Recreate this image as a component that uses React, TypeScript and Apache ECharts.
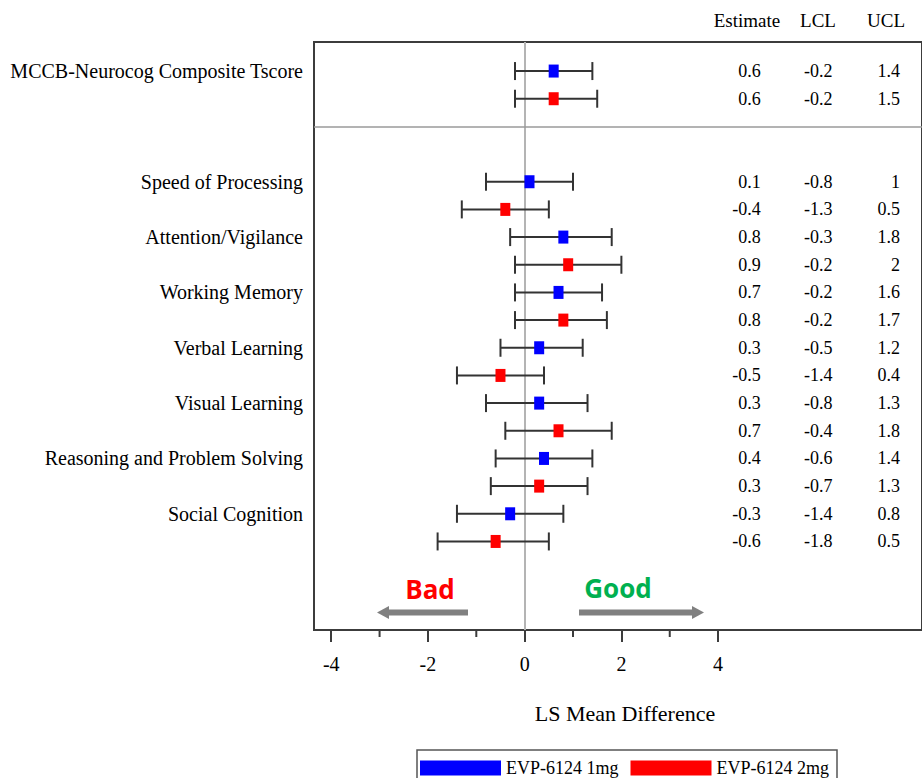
import React, { useEffect, useRef } from "react";
import * as echarts from "echarts";

const categories = [
  "MCCB-Neurocog Composite Tscore",
  "Speed of Processing",
  "Attention/Vigilance",
  "Working Memory",
  "Verbal Learning",
  "Visual Learning",
  "Reasoning and Problem Solving",
  "Social Cognition",
];
const blueRows = [1, 5, 7, 9, 11, 13, 15, 17];
const redRows = [2, 6, 8, 10, 12, 14, 16, 18];
const separatorRow = 3;

const est1 = [0.6, 0.1, 0.8, 0.7, 0.3, 0.3, 0.4, -0.3];
const lcl1 = [-0.2, -0.8, -0.3, -0.2, -0.5, -0.8, -0.6, -1.4];
const ucl1 = [1.4, 1, 1.8, 1.6, 1.2, 1.3, 1.4, 0.8];

const est2 = [0.6, -0.4, 0.9, 0.8, -0.5, 0.7, 0.3, -0.6];
const lcl2 = [-0.2, -1.3, -0.2, -0.2, -1.4, -0.4, -0.7, -1.8];
const ucl2 = [1.5, 0.5, 2, 1.7, 0.4, 1.8, 1.3, 0.5];

const xTickValues = [-4, -2, 0, 2, 4];
const xMinorTicks = [-3, -1, 1, 3];
const tableHeaders = ["Estimate", "LCL", "UCL"];
const seriesNames = ["EVP-6124 1mg", "EVP-6124 2mg"];
const seriesColors = ["#0000ff", "#ff0000"];

// layout constants (data-unit x positions of right-aligned table columns)
const tableColX = [4.883, 6.364, 7.76];
const X_MIN = -4.356;
const X_MAX = 8.216;
const Y_MIN = -0.05;
const Y_MAX = 21.2;

const SERIF = '"Liberation Serif", "Times New Roman", serif';

export default function App() {
  const ref = useRef<HTMLDivElement>(null);

  useEffect(() => {
    if (!ref.current) return;
    const chart = echarts.init(ref.current, undefined, { renderer: "svg" });

    const barData = (rows: number[], lo: number[], hi: number[]) =>
      rows.map((r, i) => [r, lo[i], hi[i]]);
    const pointData = (rows: number[], est: number[]) =>
      rows.map((r, i) => [est[i], r]);
    const tableData = (rows: number[], e: number[], l: number[], u: number[]) =>
      rows.map((r, i) => [r, e[i], l[i], u[i]]);

    const errorBarRender = (params: any, api: any) => {
      const y = api.value(0);
      const lo = api.value(1);
      const hi = api.value(2);
      const p1 = api.coord([lo, y]);
      const p2 = api.coord([hi, y]);
      const h = 9;
      const st = { stroke: "#333333", lineWidth: 2 };
      return {
        type: "group",
        children: [
          { type: "line", shape: { x1: p1[0], y1: p1[1], x2: p2[0], y2: p2[1] }, style: st },
          { type: "line", shape: { x1: p1[0], y1: p1[1] - h, x2: p1[0], y2: p1[1] + h }, style: st },
          { type: "line", shape: { x1: p2[0], y1: p2[1] - h, x2: p2[0], y2: p2[1] + h }, style: st },
        ],
      };
    };

    const tableRender = (params: any, api: any) => {
      const y = api.value(0);
      const children = [1, 2, 3].map((d, k) => {
        const pt = api.coord([tableColX[k], y]);
        return {
          type: "text",
          x: pt[0],
          y: pt[1],
          style: {
            text: String(api.value(d)),
            fill: "#000",
            fontSize: 18,
            fontFamily: SERIF,
            align: "right",
            verticalAlign: "middle",
          },
        };
      });
      return { type: "group", children };
    };

    const minorTickRender = (params: any, api: any) => {
      const v = api.value(0);
      const pt = api.coord([v, Y_MAX]);
      return {
        type: "line",
        shape: { x1: pt[0], y1: pt[1], x2: pt[0], y2: pt[1] + 7 },
        style: { stroke: "#3c3c3c", lineWidth: 2 },
      };
    };

    const option: any = {
      animation: false,
      grid: {
        left: 314,
        right: -3,
        top: 42,
        bottom: 148,
        show: true,
        borderColor: "#3c3c3c",
        borderWidth: 2,
        backgroundColor: "transparent",
      },
      xAxis: {
        type: "value",
        min: X_MIN,
        max: X_MAX,
        position: "bottom",
        axisLine: { show: true, onZero: false, lineStyle: { color: "#3c3c3c", width: 2 } },
        axisTick: {
          show: true,
          customValues: xTickValues,
          length: 12,
          lineStyle: { color: "#3c3c3c", width: 2 },
        },
        axisLabel: {
          customValues: xTickValues,
          margin: 24,
          fontFamily: SERIF,
          fontSize: 20,
          color: "#000",
          formatter: (v: number) => String(v),
        },
        splitLine: { show: false },
      },
      yAxis: {
        type: "value",
        inverse: true,
        min: Y_MIN,
        max: Y_MAX,
        axisLine: { show: true, onZero: false, lineStyle: { color: "#3c3c3c", width: 2 } },
        axisTick: { show: false },
        axisLabel: {
          customValues: blueRows,
          margin: 11,
          fontFamily: SERIF,
          fontSize: 20,
          color: "#000",
          formatter: (v: number) => {
            const i = blueRows.indexOf(v);
            return i >= 0 ? categories[i] : "";
          },
        },
        splitLine: { show: false },
      },
      legend: {
        left: 417,
        top: 750,
        orient: "horizontal",
        data: seriesNames,
        icon: "rect",
        itemWidth: 81,
        itemHeight: 15,
        itemGap: 12,
        borderColor: "#555",
        borderWidth: 1.5,
        borderRadius: 0,
        padding: [9, 8, 12, 3],
        selectedMode: false,
        itemStyle: { opacity: 1 },
        textStyle: { fontFamily: SERIF, fontSize: 18, color: "#000" },
      },
      graphic: [
        ...tableHeaders.map((t, k) => ({
          type: "text",
          x: [747, 818, 886][k],
          y: 20,
          style: {
            text: t,
            fill: "#000",
            fontSize: 19,
            fontFamily: SERIF,
            align: "center",
            verticalAlign: "middle",
          },
        })),
        {
          type: "text",
          x: 625,
          y: 713,
          style: {
            text: "LS Mean Difference",
            fill: "#000",
            fontSize: 22,
            fontFamily: SERIF,
            align: "center",
            verticalAlign: "middle",
          },
        },
        {
          type: "text",
          x: 430,
          y: 589,
          style: {
            text: "Bad",
            fill: "#ff0000",
            fontSize: 26,
            fontWeight: "bold",
            fontFamily: '"Open Sans", sans-serif',
            align: "center",
            verticalAlign: "middle",
          },
        },
        {
          type: "text",
          x: 618,
          y: 588,
          style: {
            text: "Good",
            fill: "#00b050",
            fontSize: 26,
            fontWeight: "bold",
            fontFamily: '"Open Sans", sans-serif',
            align: "center",
            verticalAlign: "middle",
          },
        },
        {
          type: "line",
          shape: { x1: 468, y1: 612.5, x2: 386, y2: 612.5 },
          style: { stroke: "#808080", lineWidth: 6 },
        },
        {
          type: "polygon",
          shape: { points: [[377, 612.5], [389, 606], [389, 619]] },
          style: { fill: "#808080" },
        },
        {
          type: "line",
          shape: { x1: 579, y1: 612.5, x2: 694, y2: 612.5 },
          style: { stroke: "#808080", lineWidth: 6 },
        },
        {
          type: "polygon",
          shape: { points: [[704, 612.5], [692, 606], [692, 619]] },
          style: { fill: "#808080" },
        },
      ],
      series: [
        {
          type: "custom",
          name: "bars1",
          renderItem: errorBarRender,
          encode: { x: [1, 2], y: 0 },
          data: barData(blueRows, lcl1, ucl1),
          z: 2,
          silent: true,
          markLine: {
            silent: true,
            symbol: "none",
            label: { show: false },
            z: 1,
            data: [
              { xAxis: 0, lineStyle: { color: "#b4b4b4", width: 2, type: "solid" } },
              { yAxis: separatorRow, lineStyle: { color: "#9a9a9a", width: 1.5, type: "solid" } },
            ],
          },
        },
        {
          type: "custom",
          name: "bars2",
          renderItem: errorBarRender,
          encode: { x: [1, 2], y: 0 },
          data: barData(redRows, lcl2, ucl2),
          z: 2,
          silent: true,
        },
        {
          type: "scatter",
          name: seriesNames[0],
          symbol: "rect",
          symbolSize: [10, 13],
          itemStyle: { color: seriesColors[0], opacity: 1 },
          data: pointData(blueRows, est1),
          z: 3,
          silent: true,
        },
        {
          type: "scatter",
          name: seriesNames[1],
          symbol: "rect",
          symbolSize: [10, 13],
          itemStyle: { color: seriesColors[1], opacity: 1 },
          data: pointData(redRows, est2),
          z: 3,
          silent: true,
        },
        {
          type: "custom",
          name: "table",
          renderItem: tableRender,
          encode: { y: 0 },
          data: [
            ...tableData(blueRows, est1, lcl1, ucl1),
            ...tableData(redRows, est2, lcl2, ucl2),
          ],
          silent: true,
          z: 4,
        },
        {
          type: "custom",
          name: "minorTicks",
          renderItem: minorTickRender,
          encode: { x: 0 },
          clip: false,
          data: xMinorTicks.map((v) => [v]),
          silent: true,
        },
      ],
    };

    chart.setOption(option);
    return () => chart.dispose();
  }, []);

  return (
    <div
      ref={ref}
      style={{ position: "absolute", left: 0, top: 0, width: 922, height: 778 }}
    />
  );
}
